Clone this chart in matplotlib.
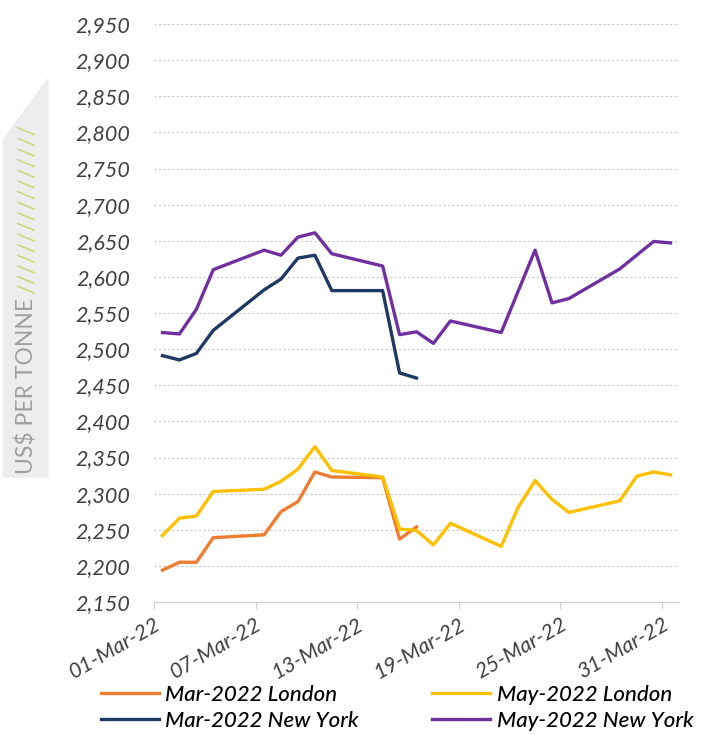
import matplotlib.pyplot as plt
import matplotlib.dates as mdates
from matplotlib.patches import Polygon
import pandas as pd

plt.rcParams["font.family"] = ["Lato", "DejaVu Sans"]

# trading days, March 2022
dates = ["2022-03-01", "2022-03-02", "2022-03-03", "2022-03-04", "2022-03-07",
         "2022-03-08", "2022-03-09", "2022-03-10", "2022-03-11", "2022-03-14",
         "2022-03-15", "2022-03-16", "2022-03-17", "2022-03-18", "2022-03-21",
         "2022-03-22", "2022-03-23", "2022-03-24", "2022-03-25", "2022-03-28",
         "2022-03-29", "2022-03-30", "2022-03-31"]

mar_london = [2194, 2205, 2205, 2239, 2243, 2275, 2289, 2330, 2323, 2322, 2237, 2254]
mar_newyork = [2491, 2485, 2494, 2526, 2582, 2597, 2626, 2630, 2581, 2581, 2467, 2460]
may_london = [2242, 2266, 2269, 2303, 2306, 2317, 2334, 2365, 2332, 2323, 2251, 2249,
              2229, 2259, 2227, 2281, 2318, 2292, 2274, 2290, 2324, 2330, 2326]
may_newyork = [2523, 2521, 2555, 2610, 2637, 2630, 2655, 2661, 2632, 2615, 2520, 2524,
               2508, 2539, 2523, 2580, 2637, 2564, 2570, 2611, 2630, 2649, 2647]

series = [
    ("Mar-2022 London", mar_london, "#ED7D31"),
    ("Mar-2022 New York", mar_newyork, "#1F3864"),
    ("May-2022 London", may_london, "#FFC000"),
    ("May-2022 New York", may_newyork, "#7030A0"),
]

x = pd.to_datetime(dates) + pd.Timedelta(hours=12)  # points sit mid-day like Excel

fig = plt.figure(figsize=(7.16, 7.35), dpi=100)
ax = fig.add_axes([154 / 716, 1 - 602 / 735, 525 / 716, 578 / 735])

for name, vals, col in series:
    ax.plot(x[:len(vals)], vals, color=col, lw=2.4, label=name)

ax.set_ylim(2150, 2950)
ax.set_yticks(range(2150, 2951, 50))
ax.yaxis.set_major_formatter(plt.FuncFormatter(lambda v, p: f"{int(v):,}"))
ax.set_xlim(pd.Timestamp("2022-03-01"), pd.Timestamp("2022-04-01"))
ax.set_xticks(pd.to_datetime(["2022-03-01", "2022-03-07", "2022-03-13",
                              "2022-03-19", "2022-03-25", "2022-03-31"]))
ax.xaxis.set_major_formatter(mdates.DateFormatter("%d-%b-%y"))

ax.grid(axis="y", color="#C8C8C8", ls=(0, (2, 2)), lw=0.8)
ax.set_axisbelow(True)
for s in ["left", "right", "top"]:
    ax.spines[s].set_visible(False)
ax.spines["bottom"].set_color("#D0D0D0")
ax.spines["bottom"].set_zorder(0)
ax.tick_params(axis="y", length=0, pad=17, labelsize=15.5, labelcolor="#404040")
ax.tick_params(axis="x", length=5, color="#D0D0D0", pad=4, labelsize=15.5, labelcolor="#404040")
for lab in ax.get_yticklabels():
    lab.set_fontstyle("italic")
for lab in ax.get_xticklabels():
    lab.set_fontstyle("italic")
    lab.set_rotation(30)
    lab.set_ha("right")
    lab.set_rotation_mode("anchor")

ax.legend(loc="upper left", bbox_to_anchor=(-0.118, -0.128), ncol=2, frameon=False,
          prop={"style": "italic", "size": 16, "weight": "medium"}, handlelength=2.6,
          handletextpad=0.3, columnspacing=3.3, labelspacing=0.26, borderaxespad=0)

# grey band with the axis title
band = Polygon([(3 / 716, 1 - 477 / 735), (48 / 716, 1 - 477 / 735),
                (48 / 716, 1 - 79 / 735), (3 / 716, 1 - 140 / 735)],
               closed=True, transform=fig.transFigure, color="#EDEDED", zorder=0)
fig.patches.append(band)
fig.text(27 / 716, 1 - 474 / 735, "US$ PER TONNE", rotation=90, rotation_mode="anchor",
         ha="left", va="center", fontsize=16.5, color="#A0A0A0")
fig.text(28 / 716, 1 - 294 / 735, "/" * 16, rotation=90, rotation_mode="anchor",
         ha="left", va="center", fontsize=17, color="#C5DC7A")

fig.savefig("out.png", dpi=100)
